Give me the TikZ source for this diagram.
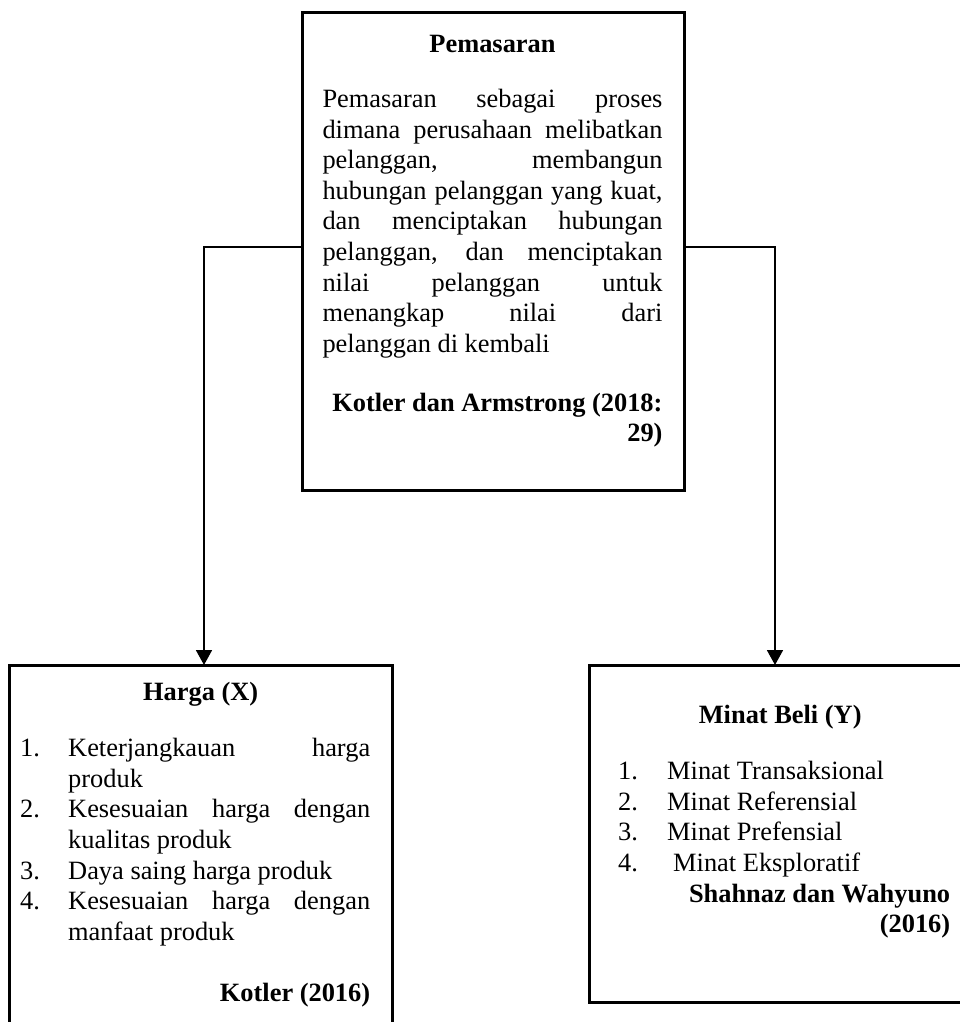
\documentclass[tikz,border=0pt]{standalone}
\usepackage{fontspec}
\setmainfont{Liberation Serif}
\usetikzlibrary{arrows.meta}
\hyphenpenalty=10000 \exhyphenpenalty=10000
\tolerance=10000 \hbadness=10000
\newcommand{\butir}[2][48pt]{\par\hangindent=#1\hangafter=1\makebox[#1][l]{#2}}

\begin{document}
\begin{tikzpicture}[x=1pt,y=-1pt,
  boxframe/.style={draw,line width=3pt,outer sep=0pt,inner sep=0pt,anchor=north west},
  boxtext/.style={anchor=base west,inner sep=0pt,align=justify,font=\fontsize{26.4}{30.6}\selectfont},
  conn/.style={line width=1.8pt,-{Triangle[length=15pt,width=16pt]}}]
\useasboundingbox (0,0) rectangle (960,1022);
% boxes
\node[boxframe,minimum width=382pt,minimum height=477.5pt] (pemasaran) at (302,12.5) {};
\node[boxframe,minimum width=383pt,minimum height=420pt] (harga) at (9,665) {};
\node[boxframe,minimum width=382pt,minimum height=337pt] (minat) at (589,665) {};
% texts
\node[boxtext,text width=340pt] (pemasaran-txt) at (322.3,53) {{\centering\textbf{Pemasaran}\par}
  \vspace{24pt}
  Pemasaran sebagai proses\linebreak dimana perusahaan melibatkan\linebreak pelanggan, membangun\linebreak
  hubungan pelanggan yang kuat,\linebreak dan menciptakan hubungan\linebreak pelanggan, dan menciptakan\linebreak
  nilai pelanggan untuk\linebreak menangkap nilai dari\linebreak pelanggan di kembali\par
  \vspace{28pt}
  {\raggedleft\textbf{Kotler dan Armstrong (2018:\\29)}\par}};
\node[boxtext,text width=350pt] (harga-txt) at (20,700) {{\centering\hspace*{11pt}\textbf{Harga (X)}\par}
  \vspace{26pt}
  \butir{1.}Keterjangkauan harga\linebreak produk
  \butir{2.}Kesesuaian harga dengan\linebreak kualitas produk
  \butir{3.}Daya saing harga produk
  \butir{4.}Kesesuaian harga dengan\linebreak manfaat produk\par
  \vspace{31pt}
  {\raggedleft\textbf{Kotler (2016)}\par}};
\node[boxtext,text width=332pt] (minat-txt) at (618,723) {{\centering\hspace*{-8pt}\textbf{Minat Beli (Y)}\par}
  \vspace{26pt}
  \butir[49pt]{1.}Minat Transaksional
  \butir[49pt]{2.}Minat Referensial
  \butir[49pt]{3.}Minat Prefensial
  \butir[49pt]{4.}\hspace*{6pt}Minat Eksploratif\par
  {\raggedleft\textbf{Shahnaz dan Wahyuno\\(2016)}\par}};
% connectors
\draw[conn] ([yshift=4pt]pemasaran.west) -| ([xshift=3.5pt]harga.north);
\draw[conn] ([yshift=4pt]pemasaran.east) -| ([xshift=-5pt]minat.north);
\end{tikzpicture}
\end{document}
